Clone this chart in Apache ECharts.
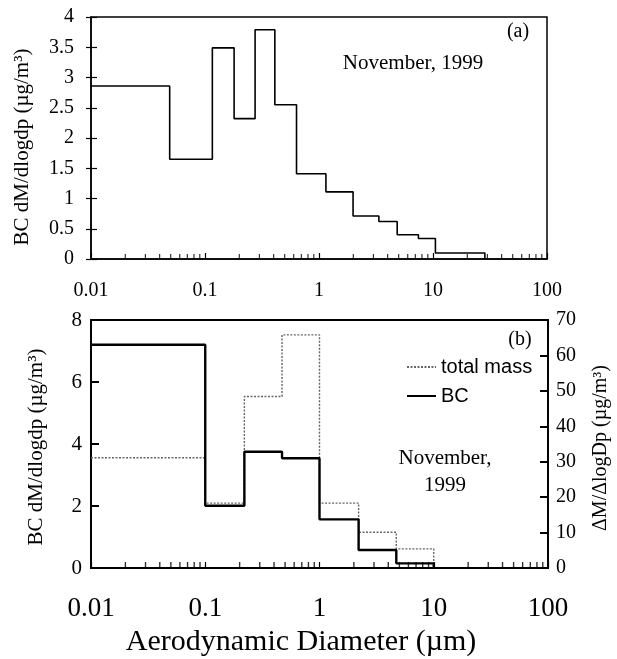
<!DOCTYPE html>
<html>
<head>
<meta charset="utf-8">
<script src="https://cdn.jsdelivr.net/npm/echarts@6/dist/echarts.min.js"></script>
<style>
  html, body { margin: 0; padding: 0; background: #fff; }
  #chart { width: 617px; height: 659px; }
</style>
</head>
<body>
<div id="chart"></div>
<script>
// Panel (a): BC size distribution, bin edges (µm) and dM/dlogdp values (µg/m³)
const edgesA = [0.01, 0.049, 0.116, 0.18, 0.275, 0.41, 0.635, 1.15, 1.99, 3.35, 4.85, 7.45, 10.5, 28.5];
const bcA = [2.86, 1.65, 3.49, 2.32, 3.79, 2.55, 1.41, 1.11, 0.71, 0.62, 0.40, 0.34, 0.10];

// Panel (b): BC (left axis) and total mass (right axis)
const edgesB = [0.01, 0.1, 0.22, 0.47, 1.0, 2.2, 4.7, 10];
const bcB = [7.2, 2.01, 3.75, 3.54, 1.57, 0.58, 0.15];
const totalMassB = [31.1, 18.3, 48.4, 65.8, 18.3, 10.1, 5.4];

// Axis tick labels
const xTickLabels = ['0.01', '0.1', '1', '10', '100'];
const yTicksA = [0, 0.5, 1, 1.5, 2, 2.5, 3, 3.5, 4];
const yTicksBLeft = [0, 2, 4, 6, 8];
const yTicksBRight = [0, 10, 20, 30, 40, 50, 60, 70];

// Logarithmic minor tick positions: 2..9 within each decade
const minorTickValues = [];
[0.01, 0.1, 1, 10].forEach(d => {
  for (let k = 2; k <= 9; k++) minorTickValues.push(+(d * k).toPrecision(3));
});

// Histogram outline: horizontal run for each bin, then drop to zero at the last edge
function stepPoints(edges, values) {
  const pts = values.map((v, i) => [edges[i], v]);
  pts.push([edges[edges.length - 1], values[values.length - 1]]);
  pts.push([edges[edges.length - 1], 0]);
  return pts;
}

const SERIF = '"Liberation Serif", "Times New Roman", serif';
const SANS = '"Liberation Sans", Arial, sans-serif';

function logXAxis(gridIndex, fontSize, margin) {
  return {
    type: 'log', logBase: 10, gridIndex, min: 0.01, max: 100,
    axisLine: { show: true, lineStyle: { color: '#000', width: 1.5 } },
    axisTick: { show: true, inside: true, length: 6, lineStyle: { color: '#000', width: 1.2 } },
    splitLine: { show: false },
    axisLabel: {
      color: '#000', fontFamily: SERIF, fontSize, margin,
      formatter: v => {
        const idx = Math.round(Math.log10(v)) + 2;
        return xTickLabels[idx] !== undefined ? xTickLabels[idx] : '';
      }
    }
  };
}

const chart = echarts.init(document.getElementById('chart'), null, { renderer: 'canvas' });

const option = {
  backgroundColor: '#fff',
  animation: false,
  grid: [
    { left: 91, right: 70, top: 17, height: 242, show: true, borderColor: '#000', borderWidth: 1.5, containLabel: false },
    { left: 91, right: 69, top: 320, height: 248, show: true, borderColor: '#000', borderWidth: 1.8, containLabel: false }
  ],
  xAxis: [
    logXAxis(0, 20, 22),
    logXAxis(1, 27, 27)
  ],
  yAxis: [
    {
      type: 'value', gridIndex: 0, min: yTicksA[0], max: yTicksA[yTicksA.length - 1], interval: 0.5,
      axisLine: { show: true, lineStyle: { color: '#000', width: 1.5 } },
      axisTick: { show: true, inside: true, length: 6, lineStyle: { color: '#000', width: 1.2 } },
      splitLine: { show: false },
      axisLabel: { color: '#000', fontFamily: SERIF, fontSize: 20, margin: 17 }
    },
    {
      type: 'value', gridIndex: 1, min: yTicksBLeft[0], max: yTicksBLeft[yTicksBLeft.length - 1], interval: 2,
      position: 'left',
      axisLine: { show: true, lineStyle: { color: '#000', width: 1.8 } },
      axisTick: { show: true, inside: true, length: 8, lineStyle: { color: '#000', width: 2 } },
      splitLine: { show: false },
      axisLabel: { color: '#000', fontFamily: SERIF, fontSize: 21, margin: 9 }
    },
    {
      type: 'value', gridIndex: 1, min: yTicksBRight[0], max: yTicksBRight[yTicksBRight.length - 1], interval: 10,
      position: 'right',
      axisLine: { show: true, lineStyle: { color: '#000', width: 1.8 } },
      axisTick: { show: true, inside: true, length: 8, lineStyle: { color: '#000', width: 2 } },
      splitLine: { show: false },
      axisLabel: { color: '#000', fontFamily: SERIF, fontSize: 20, margin: 8 }
    },
    {
      // outer half of the crossing ticks on panel (a)
      type: 'value', gridIndex: 0, min: yTicksA[0], max: yTicksA[yTicksA.length - 1], interval: 0.5,
      position: 'left',
      axisLine: { show: false },
      axisTick: { show: true, inside: false, length: 5, lineStyle: { color: '#000', width: 1.2 } },
      splitLine: { show: false },
      axisLabel: { show: false }
    }
  ],
  legend: {
    show: true,
    orient: 'vertical',
    left: 401, top: 352,
    itemWidth: 29, itemHeight: 14, itemGap: 9,
    itemStyle: { color: 'transparent', borderWidth: 0, opacity: 0 },
    textStyle: { fontFamily: SANS, fontSize: 20, color: '#000' },
    data: ['total mass', 'BC']
  },
  series: [
    {
      name: 'BC (a)', type: 'line', xAxisIndex: 0, yAxisIndex: 0,
      step: 'end', symbol: 'none',
      lineStyle: { color: '#000', width: 1.6 },
      data: stepPoints(edgesA, bcA)
    },
    {
      name: 'total mass', type: 'line', xAxisIndex: 1, yAxisIndex: 2,
      step: 'end', symbol: 'none',
      itemStyle: { color: '#777' },
      lineStyle: { color: '#666', width: 1.4, type: [2, 1.5] },
      data: stepPoints(edgesB, totalMassB)
    },
    {
      name: 'BC', type: 'line', xAxisIndex: 1, yAxisIndex: 1,
      step: 'end', symbol: 'none',
      itemStyle: { color: '#000' },
      lineStyle: { color: '#000', width: 2.4 },
      data: stepPoints(edgesB, bcB)
    },
    {
      name: 'minor ticks (a)', type: 'scatter', xAxisIndex: 0, yAxisIndex: 0,
      symbol: 'rect', symbolSize: [1.2, 5], symbolOffset: [0, -2.5],
      itemStyle: { color: '#000' }, silent: true,
      data: minorTickValues.map(v => [v, 0])
    },
    {
      name: 'minor ticks (b)', type: 'scatter', xAxisIndex: 1, yAxisIndex: 1,
      symbol: 'rect', symbolSize: [1.4, 6], symbolOffset: [0, -3],
      itemStyle: { color: '#000' }, silent: true,
      data: minorTickValues.map(v => [v, 0])
    }
  ],
  graphic: [
    { type: 'text', x: 518, y: 32, style: { text: '(a)', font: '20px ' + SERIF, fill: '#000', textAlign: 'center', textVerticalAlign: 'middle' } },
    { type: 'text', x: 413, y: 63, style: { text: 'November, 1999', font: '21px ' + SERIF, fill: '#000', textAlign: 'center', textVerticalAlign: 'middle' } },
    { type: 'text', x: 520, y: 340, style: { text: '(b)', font: '20px ' + SERIF, fill: '#000', textAlign: 'center', textVerticalAlign: 'middle' } },
    { type: 'text', x: 445, y: 458, style: { text: 'November,', font: '21px ' + SERIF, fill: '#000', textAlign: 'center', textVerticalAlign: 'middle' } },
    { type: 'text', x: 445, y: 485, style: { text: '1999', font: '21px ' + SERIF, fill: '#000', textAlign: 'center', textVerticalAlign: 'middle' } },
    { type: 'text', x: 22, y: 147, rotation: Math.PI / 2, style: { text: 'BC dM/dlogdp (µg/m³)', font: '21px ' + SERIF, fill: '#000', textAlign: 'center', textVerticalAlign: 'middle' } },
    { type: 'text', x: 36, y: 447, rotation: Math.PI / 2, style: { text: 'BC dM/dlogdp (µg/m³)', font: '21px ' + SERIF, fill: '#000', textAlign: 'center', textVerticalAlign: 'middle' } },
    { type: 'text', x: 601, y: 448, rotation: Math.PI / 2, style: { text: 'ΔM/ΔlogDp (µg/m³)', font: '20px ' + SERIF, fill: '#000', textAlign: 'center', textVerticalAlign: 'middle' } },
    { type: 'text', x: 301, y: 642, style: { text: 'Aerodynamic Diameter (µm)', font: '30px ' + SERIF, fill: '#000', textAlign: 'center', textVerticalAlign: 'middle' } }
  ]
};

chart.setOption(option);
</script>
</body>
</html>
